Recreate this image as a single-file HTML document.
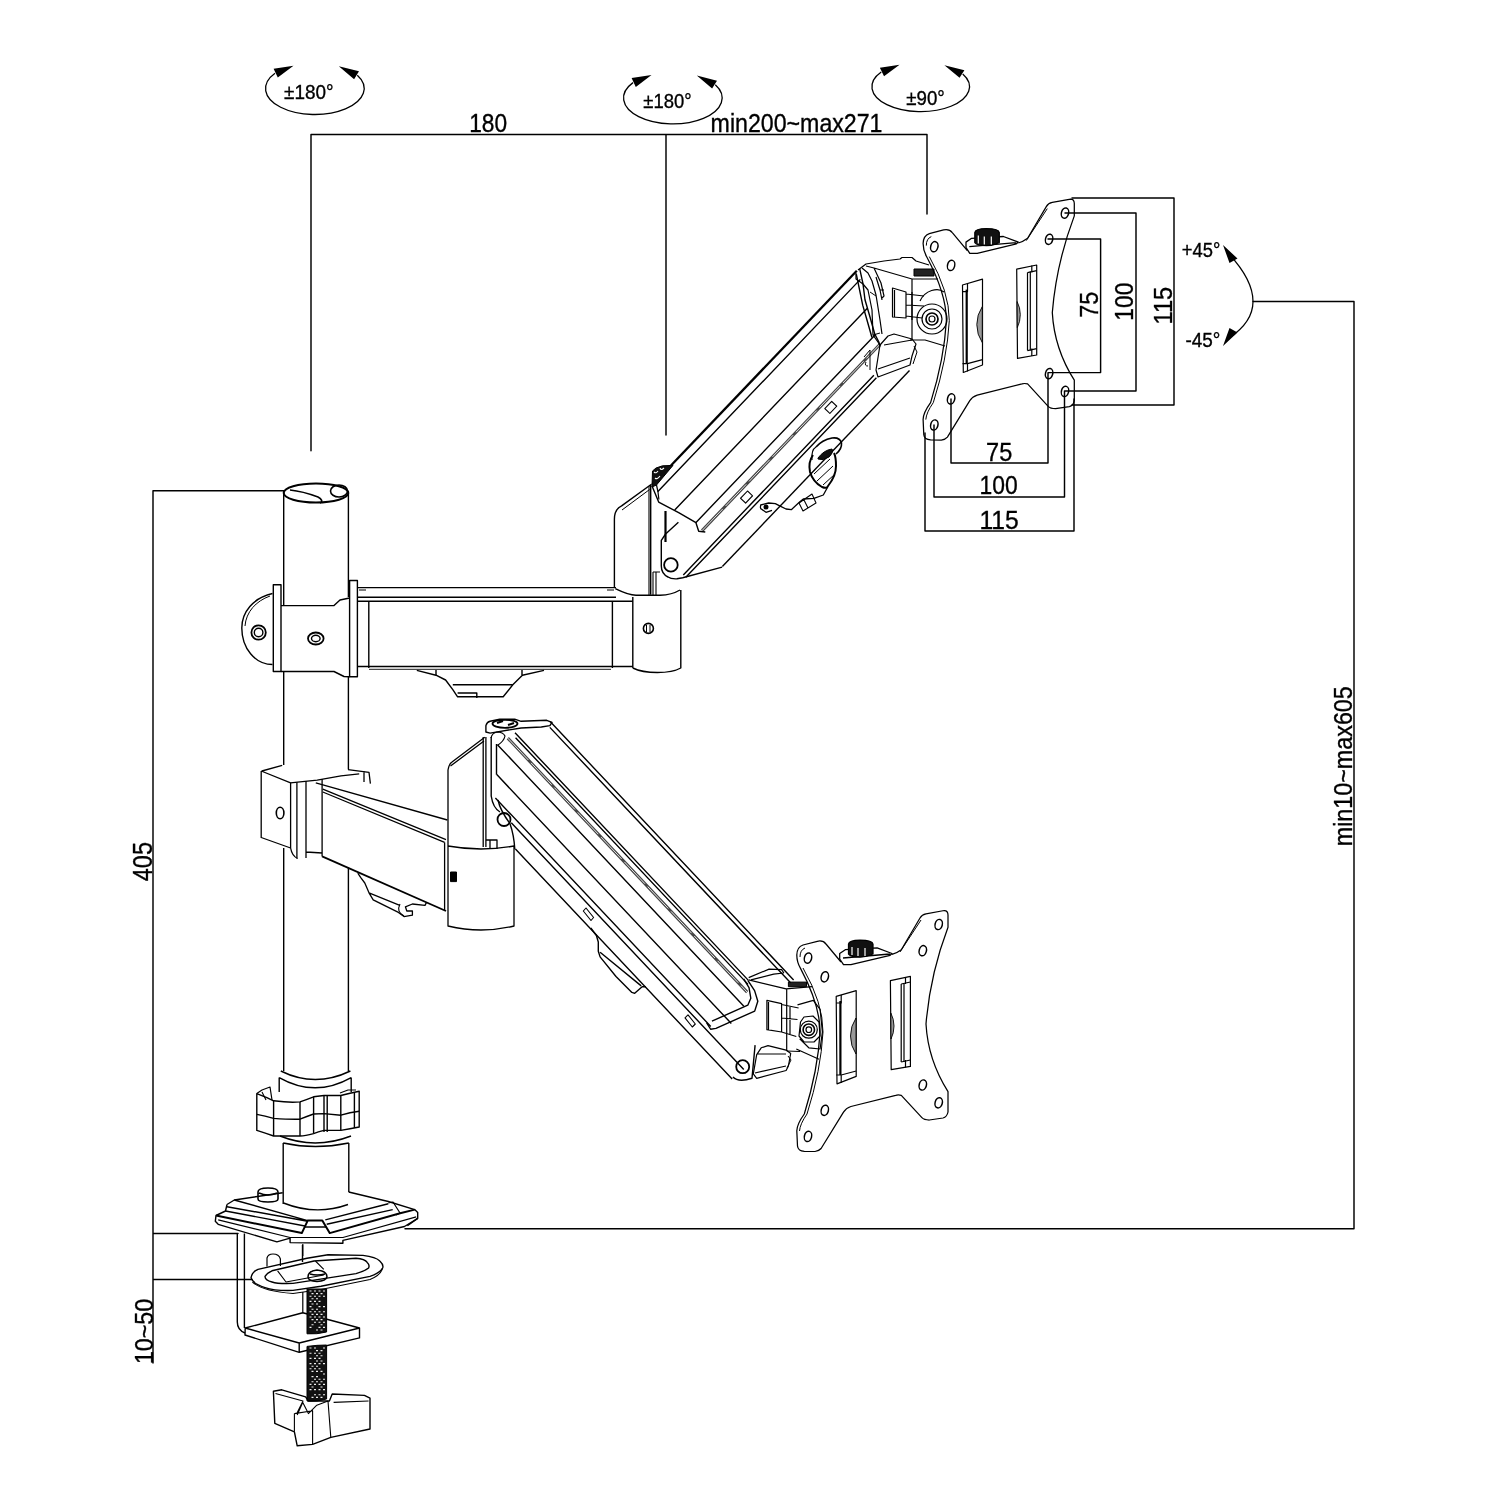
<!DOCTYPE html>
<html><head><meta charset="utf-8"><style>
html,body{margin:0;padding:0;background:#fff;width:1500px;height:1500px;overflow:hidden}
svg{display:block}
text{font-family:"Liberation Sans",sans-serif;fill:#000}
svg{will-change:transform}
</style></head><body>
<svg width="1500" height="1500" viewBox="0 0 1500 1500">
<g fill="none" stroke="#000" stroke-width="1.5" stroke-linejoin="round" stroke-linecap="round">
<!-- DIMENSIONS -->
<path id="dims" stroke-width="1.45" d="M311 134.5H927 M311 134.5V450.7 M666 134.5V435 M927 134.5V214
M153 490.7H284 M153 490.7V1363 M153 1233.5H238 M153 1279.4H252
M1253 301.4H1354V1228.8H405
M1072 198H1174V405H1072 M1065 213H1136V391H1065 M1048 239H1100.6V372.6H1048
M951 399V463H1048V373 M934 425V497H1064.5V391 M925 433V531H1074V399"/>
</g>
<!-- rotation icons -->
<g id="rot1" transform="translate(314.9,88.3)">
<path d="M-39.9,-15.1 A49.3 26 0 1 0 42.4,-13" fill="none" stroke="#000" stroke-width="1.3"/>
<path d="M-41.3,-19.6 L-21.4,-22.6 L-37.1,-10.7Z M23.9,-22.1 L44.1,-17 L39.2,-9.1Z" fill="#000"/>
</g>
<use href="#rot1" transform="translate(358,9.4)"/>
<use href="#rot1" transform="translate(609,1.7) scale(0.99,0.96)"/>
<g stroke="#000" stroke-width="0.35">
<text x="469.2" y="131.5" font-size="25" textLength="37.9" lengthAdjust="spacingAndGlyphs">180</text>
<text x="710.6" y="131.5" font-size="25" textLength="171.9" lengthAdjust="spacingAndGlyphs">min200~max271</text>
<text x="986.1" y="460.7" font-size="26.5" textLength="26.2" lengthAdjust="spacingAndGlyphs">75</text>
<text x="979.6" y="493.7" font-size="26.5" textLength="38.2" lengthAdjust="spacingAndGlyphs">100</text>
<text x="979.4" y="529.3" font-size="26.5" textLength="39.4" lengthAdjust="spacingAndGlyphs">115</text>
<text transform="translate(1098.2,317.7) rotate(-90)" font-size="26.5" textLength="26.0" lengthAdjust="spacingAndGlyphs">75</text>
<text transform="translate(1133.1,320.7) rotate(-90)" font-size="26.5" textLength="38.0" lengthAdjust="spacingAndGlyphs">100</text>
<text transform="translate(1171.6,324.5) rotate(-90)" font-size="26.5" textLength="37.8" lengthAdjust="spacingAndGlyphs">115</text>
<text transform="translate(1351.6,846.3) rotate(-90)" font-size="26.5" textLength="160.1" lengthAdjust="spacingAndGlyphs">min10~max605</text>
<text transform="translate(152.0,881.2) rotate(-90)" font-size="27" textLength="39.2" lengthAdjust="spacingAndGlyphs">405</text>
<text transform="translate(152.5,1364.1) rotate(-90)" font-size="25" textLength="65.2" lengthAdjust="spacingAndGlyphs">10~50</text>
<text x="284.1" y="99.0" font-size="20.5" textLength="49.5" lengthAdjust="spacingAndGlyphs">±180°</text>
<text x="643.3" y="107.7" font-size="20.5" textLength="48.3" lengthAdjust="spacingAndGlyphs">±180°</text>
<text x="906.3" y="104.8" font-size="20.5" textLength="38.5" lengthAdjust="spacingAndGlyphs">±90°</text>
<text x="1181.8" y="257.4" font-size="19.5" textLength="38.5" lengthAdjust="spacingAndGlyphs">+45°</text>
<text x="1185.4" y="346.9" font-size="19.5" textLength="34.9" lengthAdjust="spacingAndGlyphs">-45°</text>
</g>
<!-- +-45 arc -->
<g fill="none" stroke="#000" stroke-width="1.5">
<path d="M1229,254 Q1253,280 1253,301.4 Q1253,322 1229,338" stroke-width="1.25"/>
</g>
<path d="M1223,245 L1237.5,258.5 L1229.5,263Z M1223,346 L1237.5,332.5 L1229.5,328Z" fill="#000"/>

<!-- POLE + UPPER COLLAR + UPPER HORIZONTAL ARM -->
<g id="pole" fill="none" stroke="#000" stroke-width="1.4" stroke-linejoin="round">
<ellipse cx="316" cy="493" rx="32.3" ry="9.5" stroke-width="2"/>
<path d="M290,490 C300,491 310,494 318,497 C322,499 323,502 320,503" stroke-width="1.6"/>
<ellipse cx="339" cy="491" rx="8.5" ry="6" stroke-width="1.6"/>
<path d="M283.7,493V605.6 M348.4,493V597"/>
<path d="M283.7,671.5V765 M348.4,676.5V769.6"/>
<path d="M283.7,848V1071 M348.4,867.6V1071"/>
<path d="M283.2,1143V1204 M348.8,1143V1192"/>
<!-- upper collar -->
<path d="M272.5,593.5 C253,598 241.8,612 241.8,628 C241.8,648 255,664.5 272.5,664.5"/>
<path d="M270,596 C256,601 246,612 245,626" stroke-width="1"/>
<circle cx="258.6" cy="632.5" r="7.2" stroke-width="1.8"/>
<circle cx="258.6" cy="632.5" r="4.3"/>
<path d="M273.3,584.8H281V671.5H273.3Z"/>
<path d="M281,605.6H334L340,600L349.6,598 M281,671.5H334L344,676.5L349.6,676.7"/>
<path d="M349.6,580.5H357.4V676.7H349.6Z"/>
<ellipse cx="315.8" cy="638.5" rx="7.8" ry="6" stroke-width="1.8"/>
<ellipse cx="315.8" cy="638.5" rx="4.3" ry="3.2"/>
<!-- upper horizontal arm -->
<path d="M357.4,587.6H616 M357.4,597.2H616 M357.4,601.3H632.8 M357.4,666.5H632.8"/>
<path d="M369,669.3H611" stroke-width="0.9"/>
<path d="M368.8,601.3V668 M612.4,601.3V668"/>
<path d="M359,590H366 M607,590H614" stroke-width="1.2"/>
<path d="M416.8,670.4L436,675.2L445.6,680L452.8,689.6L457.6,696.8H503.2L512.8,684.8L522.4,675.2L544,670.4"/>
<path d="M452.8,684.8H512.8 M457.6,693H476.8V698 M436,670V675 M522,670V675"/>
<!-- upper elbow block -->
<path d="M632.8,597V668 M680.8,590V668 C670,674 645,674 632.8,668"/>
<path d="M615.3,588.7 C622,592 630,595.3 636,595.3 H660 C668,595 675,593 680,590"/>
<circle cx="648.4" cy="628.4" r="5" stroke-width="1.6"/>
<path d="M646.5,625V632 M650,625V632" stroke-width="1"/>
<!-- upper housing -->
<path d="M614.4,588V519.3 C614.4,512 617,508 621.6,505.9 L650.7,484.7 V594.7"/>
<path d="M622,510 L649.6,489.5" stroke-width="1"/>
<path d="M653,572V595 M656,572V595 M653,572H660 M649,486V595" stroke-width="1.1"/>
<path d="M665.5,511V542" stroke-width="2.2"/>
<path d="M652,485 L656,476 L663,470 L671.2,465.2" stroke-width="1.8"/>
</g>

<!-- UPPER GAS ARM -->
<g id="uarm" fill="none" stroke="#000" stroke-width="1.4" stroke-linejoin="round">
<g transform="translate(671.2,465.2) rotate(-46.33)">
<path d="M0,0 H268.8" stroke-width="2.3"/>
<path d="M-28.5,8.5 H265 M-30,33.5 H249 M-25,57.5 H236"/>
<path d="M-26,67.5 H232" stroke="#444" stroke-width="3"/>
<path d="M-26,67.5 H232" stroke="#fff" stroke-width="0.8" stroke-dasharray="30 4"/>
<path d="M-71,84.5 H205 M-71,88 H205"/>
<path d="M-38,107 H233"/>
<path d="M272.2,0.8 L263.7,13.4 L253.5,25.9 L245.7,39.4 L235.5,56.6 L232.3,65.5 L229.9,69.2"/>
<path d="M266,2 L257,15 L248,28 L241,40 L231,57"/>
<path d="M-28.3,0.5 L-35.3,16.4 L-29.2,38.2 L-24.5,57.6 L-28.8,65.5 L-24.8,70.8"/>
<rect x="147" y="72" width="10" height="7" stroke-width="1.1"/>
<rect x="24" y="73" width="10" height="7" stroke-width="1.1"/>
</g>
<!-- lower end pivot -->
<path d="M665.6,534 L661.3,540.4 V566 C661.3,571 664,575 668,577 C670,578.5 673,579 677,578.8 L682.7,577.7 L722.1,567.1 M665.6,534 L678.4,522.3"/>
<circle cx="670.9" cy="564.9" r="6.8" stroke-width="1.8"/>

<path d="M652,487 L652.5,471 L656,468 L662.5,465.8 L673,465.4 L656.5,485 Z" fill="#111" stroke-width="1"/>
<path d="M654,472 Q656,474 658,471 M655,478 Q657,480 660,476 M660,468 Q661,471 664,468" stroke="#fff" stroke-width="1.1"/>
<path d="M656.5,485 L658,492 L658.9,499.5" stroke-width="1.2"/>
<!-- cable clip -->
<path d="M816,447 Q822,440 832,438 Q840,437 841.5,443 Q842,449 836,454" stroke-width="1.6"/>
<path d="M812,460 Q811,450 816,447" stroke-width="1.2"/>
<path d="M818,458 Q824,450 832,449 Q834,452 829,457 Q823,461 818,459Z" fill="#111" stroke-width="1"/>
<path d="M813,455 Q808,462 810,472 Q813,482 822,487 Q827,489 828,486 Q836,476 836,466 Q836,457 834,453" stroke-width="2"/>
<path d="M814,474 L830,459 M817,481 L833,466 M823,485 L835,474" stroke-width="1"/>
<path d="M827.3,487.7 L823.3,495 L814,498.3 L803.3,499 L799.3,502.3 L791.3,509.7 L786,509 L780.7,506.3 L775.3,503.7 L768.7,503 L760.7,505 Q760,509 761.3,509 L766,512.3 L772,510.3" stroke-width="1.3"/>
<path d="M799,503 L812,494 L816,503 L803,511Z M804,500 L808,508" stroke-width="1.1"/>
<circle cx="766" cy="507" r="1.8" fill="#000"/>
<!-- head bracket upper -->
<g stroke-width="1.2">
<path d="M858,270 L866,264 L884,261 L900,259 L902,257.5 L912,257.5 L916,261 L929,265"/>
<path d="M866,266 L874,268 L912,279 H938 M912,279 V340 M874,268 L881,283 L884,296 L882,298"/>
<path d="M876,277 L880,290 L882,300 M880,290 H884"/>
<path d="M892.5,288 L906,292 V318 L892.5,317Z M894.5,290 V317 M906,294 L924,296 M906,305 L924,306 M906,316 L922,318 M912,292 V320" />
<circle cx="932" cy="319" r="15"/>
<circle cx="932" cy="319" r="10"/>
<circle cx="932" cy="319" r="6" stroke-width="1.7"/>
<circle cx="932" cy="319" r="3"/>
<path d="M910,340 L925,340 L945,346 M920,301 C925,290 938,287 944,292"/>
<path d="M888,336 L894,334 L912,339 L916,344 L912,356 L910,365 L878,377 L876,370 L880,345Z M878,369 L910,358 M884,345 L912,340"/>
<path d="M914,346 L917,352 L913,364" stroke-width="1"/>
<path d="M862,268 L868,273 L872,281 L876,295 L880,320 L882,334 M856,273 V279 L863,284 L868,290 L872,310 L873,335 L880,345" />
<path d="M870,292 L876,296 M873,335 L880,333 M864,357 L870,350 V370 M866,362 Q864,366 868,366" stroke-width="1"/>
<path d="M914,269 H934 V276 H914Z" fill="#222" stroke-width="1"/>
</g>
</g>

<!-- VESA PLATE (lower) -->
<g id="vesa" fill="none" stroke="#000" stroke-width="1.25" stroke-linejoin="round">
<path d="M796.8,955 Q797,947 803,945 L817.3,941.3 Q823,940 826,944 L841,962 M892,954.4 Q897,953 901.3,949.7 L920,918 Q922,914.5 926,913.8 L944.3,910.5 Q948,910.5 948,915 L948,927.3 Q930,975 926,1024 Q928,1060 948,1091.6 L948,1112 Q947,1117 943,1118 L929.3,1120 Q924,1120 921.9,1117.7 L901.3,1095.3 Q898,1094.5 895.7,1095.3 L850.9,1106.5 Q846,1108 843.5,1112.1 L821.1,1148.5 Q819,1151 815,1151.5 L804.3,1151.3 Q798,1151 797.5,1146 L796.8,1130.8 Q797,1124 804.3,1114 Q818,1070 820.1,1031.9 Q820,1005 800.5,968.4 Q796.8,962 796.8,955"/>
<path d="M800,957 Q800,950 805,948 M900,952 L921,920 M799.5,1131 Q800,1124 807,1114 Q821,1070 823,1032 Q823,1003 803,968" stroke-width="1"/>
<g stroke-width="1.5">
<ellipse cx="808" cy="958.1" rx="3.6" ry="5.2" transform="rotate(15 808 958.1)"/>
<ellipse cx="824.8" cy="976.8" rx="3.6" ry="5.2" transform="rotate(15 824.8 976.8)"/>
<ellipse cx="938.7" cy="924.5" rx="3.6" ry="5.2" transform="rotate(15 938.7 924.5)"/>
<ellipse cx="922.8" cy="950.7" rx="3.6" ry="5.2" transform="rotate(15 922.8 950.7)"/>
<ellipse cx="922.8" cy="1085" rx="3.6" ry="5.2" transform="rotate(15 922.8 1085)"/>
<ellipse cx="938.7" cy="1102.8" rx="3.6" ry="5.2" transform="rotate(15 938.7 1102.8)"/>
<ellipse cx="824.8" cy="1110.3" rx="3.6" ry="5.2" transform="rotate(15 824.8 1110.3)"/>
<ellipse cx="808" cy="1136.4" rx="3.6" ry="5.2" transform="rotate(15 808 1136.4)"/>
</g>
<!-- slots -->
<g stroke-width="1.2">
<path d="M836.2,996.4 L856.2,990.6 V1076.4 L837,1083.9 Z"/>
<path d="M840.4,1001 V1075" stroke-width="2.2"/>
<path d="M836.2,1003 H841.2 V995 M836.2,1075 H841.2 L856.2,1071 M841.2,1075 V1083"/>
<path d="M856,1018 Q850.5,1026 850.5,1036 Q850.5,1046 856,1054 Z" fill="#999" stroke-width="0.9"/>
<path d="M890.4,980.6 L910.4,976.4 V1066.4 L891.2,1069.7 Z"/>
<path d="M901.2,984 V1062 M904,983 V1062" />
<path d="M901.2,984 L910.4,982 M905.5,977 V984 M901.2,1062 L910.4,1060 M905.5,1060 V1067.5" />
<path d="M890.8,1013 Q894,1019 894,1026 Q894,1033 891,1039 Z" fill="#999" stroke-width="0.9"/>
</g>
<!-- knob base + knob -->
<path d="M839.7,953.5 L845.3,949.7 L877.1,947.9 L892,953.5 L890.1,955.3 L850.9,964.7 L843.5,964.7 L839.7,959Z M843,958 L890,954" stroke-width="1.3"/>
<path d="M848.5,944 Q849,940 860,940 Q872.5,940 873,944 V954 Q866,957 860,957 Q851,957 848.5,954Z" fill="#111"/>
<path d="M852,947 V955 M858,948 V956 M865,948 V956" stroke="#fff" stroke-width="1.2"/>
</g>
<use href="#vesa" transform="translate(126.3,-711.4)"/>

<!-- LOWER HEAD BRACKET -->
<g fill="none" stroke="#000" stroke-width="1.2" stroke-linejoin="round">
<path d="M748.7,977.6 L769.1,969.1 L781.6,969.7 L783.9,973 M751,979.9 L773.7,974.2 L783.9,973"/>
<path d="M748.7,979.9 L786.1,988.9 L812.2,986.7 M786.7,989 V1051"/>
<path d="M788.4,982.1 H806.5 V986.7 H788.4Z" fill="#222" stroke-width="1"/>
<path d="M766.9,1000.3 L781.6,1003.7 V1032 L766.9,1029.7Z M768.5,1002 V1030 M781.6,1004.5 L798.6,1008 M781.6,1018 L797.5,1019.5 M781.6,1032 L796.3,1036.5 M790,1006 V1034"/>
<path d="M797.5,1004.8 L813.3,1000.3 L820.1,1009.3 L822.4,1032 L820.1,1049 L808.8,1047.8 L799.7,1038.8 M796.3,1049 L819,1059.2 M786.7,1051 L800,1051.5"/>
<path d="M800.5,1022 L804,1017 L813,1016 L819,1022 L820,1036 L814,1042 L804,1042 L799,1036Z"/>
<circle cx="808.8" cy="1029.7" r="8.5"/>
<circle cx="808.8" cy="1029.7" r="5.7" stroke-width="1.6"/>
<circle cx="808.8" cy="1029.7" r="2.8"/>
<path d="M761.2,1047.8 L768,1045.6 L786.1,1050.1 L790.7,1053.5 L788.4,1066 L786.1,1070.5 L756.7,1078.4 L753.3,1073.9 L756.7,1054.6Z M757,1054 L786,1054 M755,1073 L786,1066"/>
<path d="M788,1056 L791,1060 L787,1068" stroke-width="1"/>
</g>

<!-- LOWER GAS ARM -->
<g fill="none" stroke="#000" stroke-width="1.4" stroke-linejoin="round">
<g transform="translate(551,723.5) rotate(46.7)">
<path d="M-2,-0.7 H353 M2,3.5 H353"/>
<path d="M-18,32.5 H322 M-14,35.5 H325 M-21,53.5 H338 M0,74.5 H342 M16,91.5 H330"/>
<path d="M-19,41.5 H330" stroke="#444" stroke-width="3"/>
<path d="M-19,41.5 H330" stroke="#fff" stroke-width="0.8" stroke-dasharray="30 4"/>
<path d="M45,97 H384 M67,112 H383"/>
<path d="M322,33 L334,35 L344,40 L349,49 L335,89 L332,93.5 L324.6,92"/>
<path d="M318,35 L328,37 L337,43 L340,50 L327,87"/>
<path d="M382,110 Q390,110 396,97 L374,72" />
</g>
<circle cx="742.7" cy="1066.7" r="6.5" stroke-width="1.8"/>
<path d="M590.8,928 L596.4,935.5 L598.3,942 V951.3 L600.1,956.9 L616,976.5 L631.9,992.4 L634.7,993.3 L642.1,986.8 L645.9,986.8 M600.1,952.3 L641.2,985.9"/>
<path d="M583.3,911 L586,908 L593.6,917.5 L591,920.5Z M685,1017.8 L688,1014.8 L695.3,1024 L692.3,1027Z" stroke-width="1.1"/>
<!-- upper pivot area -->
<path d="M491.2,737 V796 Q493,808 500,812" />
<path d="M496.5,744 V774.7 M498,800 Q500,810 510,823.7 Q514,835 514.8,849.3"/>
<circle cx="504" cy="819.5" r="6.5" stroke-width="1.8"/>
<!-- cap -->
<path d="M485.9,732 V725.6 Q487,722 490.1,721.3 L499.7,719.2 H514.7 L521.1,721.3 L546.7,720.3 L552,722.4 L549.9,725.6 L541.3,727 L521.1,728 L490.1,733.1 Z"/>
<ellipse cx="505" cy="723.8" rx="12.5" ry="4" stroke-width="1.8"/>
<path d="M497,723 L503,721 M508,725 L514,723" stroke-width="2"/>
<path d="M491,738 Q492,733 497,732 Q503,732 505,736 Q504,741 498,745 L496.5,745" stroke-width="1.2"/>
</g>

<!-- LOWER COLLAR + HORIZONTAL ARM + ELBOW -->
<g fill="none" stroke="#000" stroke-width="1.3" stroke-linejoin="round">
<path d="M261.9,771 L282.2,765.4 M261.2,771 L290.6,782.9 V848 Q292,856 297.6,858.5 M261.2,771 V837.5 L290.6,848"/>
<path d="M290.6,782.9 L297.6,782.2 L317.2,780.1 L341,775.9 L359.2,773.8 M348,769.6 L369,772.4 L370.4,783.6 M364,771 V782"/>
<path d="M296.9,782.2 V858.5 M306,781 V858 M322.1,779 V856.4 M306,852 L322.1,853"/>
<ellipse cx="280.1" cy="813" rx="3.8" ry="5.8" stroke-width="1.6"/>
<path d="M315.8,782.9 L447.4,820 M322.8,789.2 L446,839.6 M322.8,792 L444.6,842.4"/>
<path d="M322.1,856.4 L446,911" stroke-width="1.8"/>
<path d="M357.8,873.2 L360.6,877.4 L364.8,883 L369,892.8 L373.2,899.8 L398.4,912.4 L404,916.6 L412.4,915.2 L412.4,911 L406.8,911 L405.4,906.8 L412.4,904 L425,905.4 L426.4,902.6 M369,892.8 L399.8,905.4"/>
<path d="M400,904 Q396,912 404,916" stroke-width="1.1"/>
<!-- elbow cylinder -->
<path d="M448,846 V926 Q481,934 514,926 V846 Q481,852 448,846"/>
<path d="M448,770 V846 M448,770 Q449,764 452,762 L484.8,737.3 M450.5,766 L484,741"/>
<path d="M483.2,737 V847 M485.9,737 V847"/>
<path d="M485.9,840 H497 V849 M490,840 V849"/>
<path d="M450.5,872 H456.5 V881.6 H450.5Z" fill="#000" stroke-width="1"/>
<path d="M444.6,842.4 V911"/>
</g>

<!-- KNOB RING -->
<g fill="none" stroke="#000" stroke-width="1.4" stroke-linejoin="round">
<path d="M280.8,1071 Q315,1088 350.4,1071 M279.2,1077.6 V1092 M351.2,1077.6 V1092 M279.2,1077.6 Q315,1098 351.2,1077.6"/>
<path d="M256.8,1093.6 Q266,1097 273.6,1100.8 Q290,1103 300,1101.9 Q308,1099 313.6,1096.8 L324,1095.5 H340.8 Q350,1093 359.2,1091.2 V1127 Q350,1129 340.8,1130.4 H324 Q318,1132 313.6,1133.6 Q305,1136 300,1136 H273.6 Q265,1133 256.8,1130.4 Z"/>
<path d="M256.8,1114.4 Q265,1116 273.6,1118.4 Q290,1119.5 300,1119.2 Q308,1116 313.6,1114 L324,1113.6 L340.8,1115.2 Q350,1112 359.2,1111.2"/>
<path d="M273.6,1100.8 V1136 M300,1101.9 V1136 M313.6,1096.8 V1133.6 M324,1095.5 V1132 M327.2,1095.5 V1132 M340.8,1095.2 V1130.4 M354.4,1092 V1128"/>
<path d="M256.8,1093.6 L262,1090 L270,1087 L272,1100" stroke-width="1.2"/>
<path d="M262,1092 L266,1100 M340,1093 L348,1090 L356,1090" stroke-width="1.1"/>
<path d="M280,1136 Q315,1150 351,1136 M283.2,1143 Q315,1150 348.8,1143" />
</g>

<!-- BASE -->
<g fill="none" stroke="#000" stroke-width="1.4" stroke-linejoin="round">
<path d="M283.5,1203 Q316,1216 348,1204.5"/>
<path d="M227,1204.5 L234.3,1200 L282.7,1192.7 M348.7,1192 L388.3,1201.5 L414.7,1209.6 L417.7,1212.5 V1218.4 L407.4,1225.7"/>
<path d="M227,1204.5 L225.5,1211 L216,1215.5 L215.3,1221.3 L218.2,1224.3 L276.9,1241.9 L290.1,1238.2 V1242.6 L342.9,1243.3 V1240.4 L404.5,1226.5 L417.7,1218.4"/>
<path d="M216,1215.5 L301.8,1233.1 L307.7,1220.6 H322.3 L329.7,1233.1 L400.1,1213.3 L414.7,1209.6" stroke-width="2"/>
<path d="M227,1206.7 L307.7,1221.3 M225.5,1211 L305,1226 M325.3,1219.9 L388.3,1203.7 M326.7,1224.3 L392.7,1209.6 M234.3,1200 L307.7,1220.6 M304,1227 H326"/>
<path d="M218.2,1219.9 L290.1,1237.5 H342.9 L416.2,1216.9" stroke-width="1.1"/>
<path d="M388.3,1203 L393,1202 L400,1213 L396,1215" stroke-width="1.2"/>
<path d="M258,1192 Q258,1188 268,1188 Q278,1188 278,1192 V1199 Q278,1202 268,1202 Q258,1202 258,1199Z M259,1193 Q268,1197 277,1193" stroke-width="1.6"/>
<path d="M302.5,1245 V1262"/>
</g>

<!-- CLAMP -->
<g fill="none" stroke="#000" stroke-width="1.4" stroke-linejoin="round">
<path d="M237.3,1233.5 V1322 Q237.3,1330 245,1333 M244.4,1233.5 V1328"/>
<path d="M245.2,1328 L302.8,1312.7 L359.5,1328 V1337.9 L299.2,1352.3 L245,1335 Z M245.2,1328 L299.2,1343 L359.5,1328 M299.2,1343 V1352.3"/>
<path d="M302.8,1244 V1256 M302.8,1292 V1312.7" stroke-width="1.2"/>
<!-- oval pad -->
<path d="M251,1277.8 Q252,1272 258,1269.4 L307,1258.2 L328,1254.7 L363,1255.4 Q376,1257 379.8,1261 Q384,1265 382.6,1268 Q380,1273 370,1276.4 L321,1286.2 L293,1290.4 Q275,1291 265,1287.6 Q253,1284 251,1277.8Z"/>
<path d="M252.4,1282 Q262,1291 293,1293.5 L321,1289.5 L370,1279.5 Q381,1275 382.6,1268" stroke-width="1.1"/>
<path d="M265,1276.4 Q267,1273 272,1270.8 L314,1261 L356,1258.2 Q365,1259 367.2,1262.4 Q370,1265 368.6,1268 Q365,1271 356,1273.6 L293,1283.4 Q278,1284 272,1282 Q265,1280 265,1276.4Z"/>
<path d="M277.6,1270.8 L286,1282 M315.4,1261 L323.8,1269.4 M286,1282 L323.8,1275" stroke-width="1.1"/>
<path d="M308,1277 Q308,1271 317,1270 Q327,1271 327,1277 Q326,1281 317,1281.5 Q308,1281 308,1277Z M310,1274 Q317,1276 325,1274" stroke-width="1.5"/>
<path d="M267,1266.6 V1258 Q268,1254 273,1254 Q279,1254 280.4,1259 V1266" stroke-width="1.2"/>
<!-- screw -->
<path d="M307,1289 H326.6 V1332 Q317,1334.5 307,1333.8Z" fill="#111" stroke-width="1"/>
<path d="M307,1346.4 Q317,1345 326.6,1345 V1399 Q317,1402 307,1401Z" fill="#111" stroke-width="1"/>
<path d="M309.5,1291.0h2 M314.0,1291.0h2 M318.5,1291.0h2 M323.0,1291.0h2 M311.5,1293.6h2 M316.0,1293.6h2 M320.5,1293.6h2 M309.5,1296.2h2 M314.0,1296.2h2 M318.5,1296.2h2 M323.0,1296.2h2 M311.5,1298.8h2 M316.0,1298.8h2 M309.5,1301.4h2 M314.0,1301.4h2 M318.5,1301.4h2 M311.5,1304.0h2 M316.0,1304.0h2 M309.5,1306.6h2 M318.5,1306.6h2 M323.0,1306.6h2 M311.5,1309.2h2 M316.0,1309.2h2 M309.5,1311.8h2 M314.0,1311.8h2 M318.5,1311.8h2 M323.0,1311.8h2 M311.5,1314.4h2 M316.0,1314.4h2 M320.5,1314.4h2 M309.5,1317.0h2 M314.0,1317.0h2 M318.5,1317.0h2 M323.0,1317.0h2 M311.5,1319.6h2 M316.0,1319.6h2 M320.5,1319.6h2 M314.0,1322.2h2 M318.5,1322.2h2 M323.0,1322.2h2 M311.5,1324.8h2 M320.5,1324.8h2 M309.5,1327.4h2 M318.5,1327.4h2 M323.0,1327.4h2 M316.0,1330.0h2 M320.5,1330.0h2 M309.5,1348.0h2 M314.0,1348.0h2 M323.0,1348.0h2 M316.0,1350.6h2 M320.5,1350.6h2 M309.5,1353.2h2 M314.0,1353.2h2 M318.5,1353.2h2 M316.0,1355.8h2 M320.5,1355.8h2 M309.5,1358.4h2 M314.0,1358.4h2 M318.5,1358.4h2 M316.0,1361.0h2 M320.5,1361.0h2 M309.5,1363.6h2 M314.0,1363.6h2 M318.5,1363.6h2 M323.0,1363.6h2 M311.5,1366.2h2 M316.0,1366.2h2 M309.5,1368.8h2 M314.0,1368.8h2 M318.5,1368.8h2 M311.5,1371.4h2 M316.0,1371.4h2 M320.5,1371.4h2 M323.0,1374.0h2 M311.5,1376.6h2 M316.0,1376.6h2 M314.0,1379.2h2 M318.5,1379.2h2 M323.0,1379.2h2 M311.5,1381.8h2 M316.0,1381.8h2 M320.5,1381.8h2 M309.5,1384.4h2 M314.0,1384.4h2 M318.5,1384.4h2 M323.0,1384.4h2 M311.5,1387.0h2 M320.5,1387.0h2 M309.5,1389.6h2 M314.0,1389.6h2 M318.5,1389.6h2 M323.0,1389.6h2 M314.0,1394.8h2 M318.5,1394.8h2 M323.0,1394.8h2 M311.5,1397.4h2 M316.0,1397.4h2 M320.5,1397.4h2" stroke="#eee" stroke-width="1.1"/>
<!-- T knob -->
<path d="M273.4,1391.2 L281.8,1389.8 L305.6,1396.8 L308.4,1401 H329.4 L332.2,1394 L364.4,1395.4 L370,1398.2 V1429 L330.8,1437.4 L312.6,1444.4 L297.2,1445.8 L294.4,1431.8 L274.8,1423.4Z"/>
<path d="M294.4,1413.6 L312.6,1410.8 V1444.4 M328,1401 L330.8,1437.4 M294.4,1413.6 V1431.8 M297.2,1415 L302.8,1402.4 L308.4,1413.6 L316.8,1405.2 L328,1401 M333.6,1402.4 L368.6,1401 M275.5,1393.5 L303,1401 L297,1413" stroke-width="1.1"/>
</g>
</svg>
</body></html>
